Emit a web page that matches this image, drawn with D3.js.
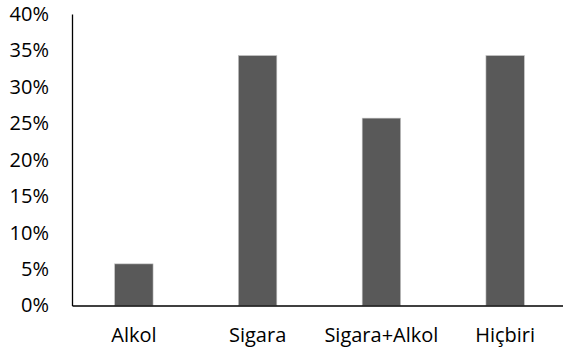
<!DOCTYPE html>
<html>
<head>
<meta charset="utf-8">
<script src="https://cdn.jsdelivr.net/npm/d3@7"></script>
<style>
  html, body { margin: 0; padding: 0; background: #fff; }
  svg { display: block; }
  text { font-family: "Open Sans", sans-serif; fill: #000; }
</style>
</head>
<body>
<svg id="chart" width="563" height="354"></svg>
<script>
// Share of respondents by habit
const categories = ["Alkol", "Sigara", "Sigara+Alkol", "Hiçbiri"];
const values = [0.0571, 0.3429, 0.2571, 0.3429];
const yTicks = [0, 0.05, 0.10, 0.15, 0.20, 0.25, 0.30, 0.35, 0.40];

const svg = d3.select("#chart");
const plot = { left: 72, right: 567, top: 14, bottom: 305.5 };

const x = d3.scaleBand()
  .domain(categories)
  .range([plot.left, plot.right])
  .paddingInner(0.69)
  .paddingOuter(0.345);

const y = d3.scaleLinear()
  .domain([0, 0.40])
  .range([plot.bottom, plot.top]);

// bars
svg.append("g")
  .selectAll("rect")
  .data(categories)
  .join("rect")
  .attr("x", d => x(d))
  .attr("width", x.bandwidth())
  .attr("y", (d, i) => y(values[i]))
  .attr("height", (d, i) => plot.bottom - y(values[i]))
  .attr("fill", "#595959")
  .attr("stroke", "#bfbfbf")
  .attr("stroke-width", 0.6);

// y axis
const yAxis = svg.append("g")
  .attr("transform", `translate(${plot.left},0)`)
  .call(d3.axisLeft(y).tickValues(yTicks).tickFormat(d3.format(".0%")).tickSize(0).tickPadding(23));
yAxis.select(".domain").attr("stroke", "#000").attr("stroke-width", 1.3);
yAxis.selectAll("text").style("font-size", "20px").attr("font-family", null);

// x axis
const xAxis = svg.append("g")
  .attr("transform", `translate(0,${plot.bottom})`)
  .call(d3.axisBottom(x).tickSize(0).tickPadding(22));
xAxis.select(".domain").attr("stroke", "#000").attr("stroke-width", 1.3);
xAxis.selectAll("text").style("font-size", "20px").attr("font-family", null);
</script>
</body>
</html>
